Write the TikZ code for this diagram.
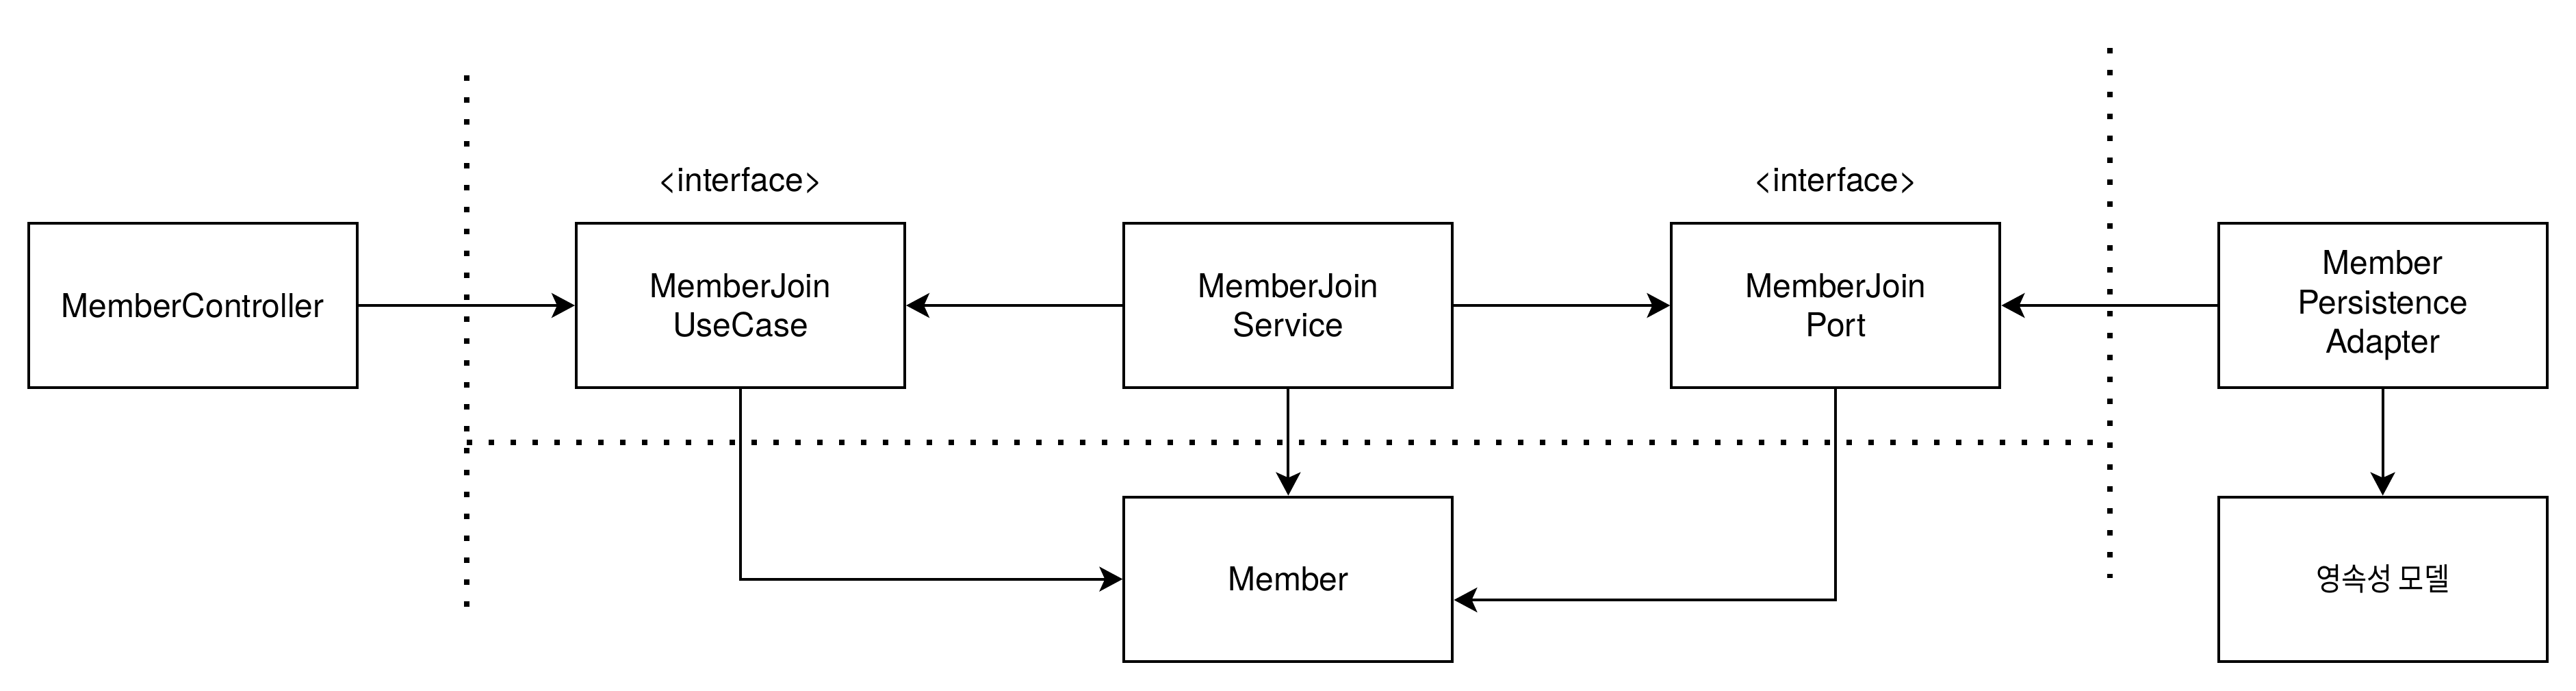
\documentclass[tikz,border=0pt]{standalone}
\usepackage{fontspec}
\setmainfont{TeX Gyre Heros}
\newfontfamily\krfont[FakeStretch=0.88]{Noto Sans CJK KR}
\usetikzlibrary{arrows.meta}
\tikzset{
	box/.style={draw, line width=1pt, minimum width=120pt, minimum height=60pt, inner sep=2pt, align=center, font=\fontsize{12}{14.4}\selectfont},
	arr/.style={line width=1pt, -{Stealth[length=8.5pt, width=9pt, inset=2pt]}},
	sep/.style={line width=2pt, dash pattern=on 2pt off 6pt},
	iface/.style={font=\fontsize{12}{14.4}\selectfont, inner sep=0pt},
}

\begin{document}
\begin{tikzpicture}[x=1pt,y=-1pt]
			% page size
			\useasboundingbox (0,0) rectangle (941,252);

			% layer borders
			\coordinate (lefttop) at (170.5,27.5);
			\coordinate (leftbot) at (170.5,221.5);
			\coordinate (righttop) at (770.75,17.5);
			\coordinate (rightbot) at (770.75,211);
			\coordinate (midleft) at (170.5,161.5);
			\coordinate (midright) at (765,161.5);
			\draw[sep] (lefttop) -- (leftbot);
			\draw[sep] (righttop) -- (rightbot);
			\draw[sep] (midleft) -- (midright);

			% upper row
			\node[box] (ctrl) at (70.4,111.5) {MemberController};
			\node[box] (usecase) at (270.5,111.5) {MemberJoin\\UseCase};
			\node[box] (service) at (470.6,111.5) {MemberJoin\\Service};
			\node[box] (port) at (670.6,111.5) {MemberJoin\\Port};
			\node[box] (adapter) at (870.4,111.5) {Member\\Persistence\\Adapter};

			% interface labels
			\node[iface] (usecaselbl) at (270.5,66) {<interface>};
			\node[iface] (portlbl) at (670.6,66) {<interface>};

			% lower row
			\node[box] (member) at (470.6,211.4) {Member};
			\node[box, font=\krfont\fontsize{11.5}{13}\selectfont] (model) at (870.4,211.4) {영속성 모델};

			% dependencies
			\draw[arr] (ctrl) -- (usecase);
			\draw[arr] (service) -- (usecase);
			\draw[arr] (service) -- (port);
			\draw[arr] (adapter) -- (port);
			\draw[arr] (service) -- (member);
			\draw[arr] (adapter) -- (model);
			\draw[arr] (usecase.south) |- (member.west);
			\draw[arr] (port.south) |- ([yshift=-7.6pt]member.east);

\end{tikzpicture}
\end{document}
